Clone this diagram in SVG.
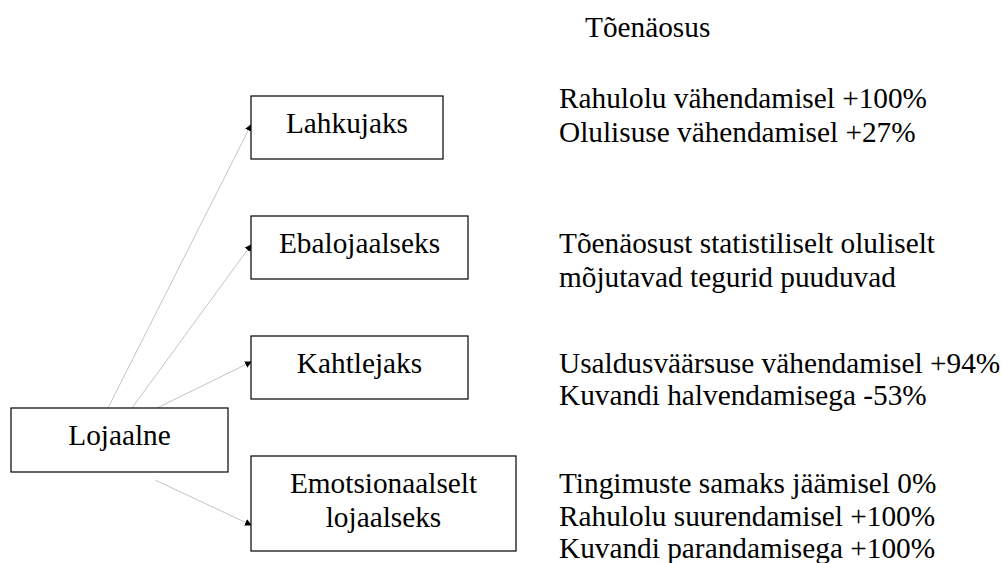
<svg xmlns="http://www.w3.org/2000/svg" width="1002" height="563" viewBox="0 0 1002 563">
  <style>
    .box { fill: #ffffff; stroke: #000000; stroke-width: 1.2; }
    .lbl { font-family: "Liberation Serif", "Times New Roman", serif; font-size: 29.3px; fill: #000000; }
    .mid { text-anchor: middle; }
    .link { stroke: #c4c4c4; stroke-width: 1; fill: none; marker-end: url(#tip); }
  </style>
  <defs>
    <marker id="tip" markerUnits="userSpaceOnUse" markerWidth="7" markerHeight="7" refX="6" refY="3.5" orient="auto">
      <path d="M0,0 L7,3.5 L0,7 z" fill="#000000"/>
    </marker>
  </defs>

  <rect width="1002" height="563" fill="#ffffff"/>

  <!-- connectors from the source node -->
  <g id="connectors">
    <line class="link" x1="108" y1="408" x2="251" y2="125"/>
    <line class="link" x1="132" y1="408" x2="251" y2="245"/>
    <line class="link" x1="157" y1="408" x2="251" y2="362"/>
    <line class="link" x1="155" y1="480" x2="251" y2="525"/>
  </g>

  <g id="node-lojaalne">
    <rect class="box" x="11" y="408" width="217" height="64"/>
    <text class="lbl mid" x="119.5" y="445">Lojaalne</text>
  </g>

  <g id="node-lahkujaks">
    <rect class="box" x="251" y="96" width="192" height="63"/>
    <text class="lbl mid" x="347" y="133">Lahkujaks</text>
  </g>

  <g id="node-ebalojaalseks">
    <rect class="box" x="251" y="216" width="217" height="63"/>
    <text class="lbl mid" x="359.5" y="253">Ebalojaalseks</text>
  </g>

  <g id="node-kahtlejaks">
    <rect class="box" x="251" y="336" width="217" height="63"/>
    <text class="lbl mid" x="359.5" y="372.5">Kahtlejaks</text>
  </g>

  <g id="node-emotsionaalselt">
    <rect class="box" x="251" y="456" width="265" height="95"/>
    <text class="lbl mid" x="383.5" y="492.5">Emotsionaalselt</text>
    <text class="lbl mid" x="383.5" y="526.5">lojaalseks</text>
  </g>

  <!-- probability notes -->
  <g id="notes">
    <text class="lbl" x="585" y="36.5">Tõenäosus</text>
    <text class="lbl" x="559" y="108.3">Rahulolu vähendamisel +100%</text>
    <text class="lbl" x="559" y="141.7">Olulisuse vähendamisel +27%</text>
    <text class="lbl" x="559" y="253.3">Tõenäosust statistiliselt oluliselt</text>
    <text class="lbl" x="559" y="286.7">mõjutavad tegurid puuduvad</text>
    <text class="lbl" x="559" y="373.3">Usaldusväärsuse vähendamisel +94%</text>
    <text class="lbl" x="559" y="405">Kuvandi halvendamisega -53%</text>
    <text class="lbl" x="559" y="493.3">Tingimuste samaks jäämisel 0%</text>
    <text class="lbl" x="559" y="525.7">Rahulolu suurendamisel +100%</text>
    <text class="lbl" x="559" y="558.3">Kuvandi parandamisega +100%</text>
  </g>
</svg>
